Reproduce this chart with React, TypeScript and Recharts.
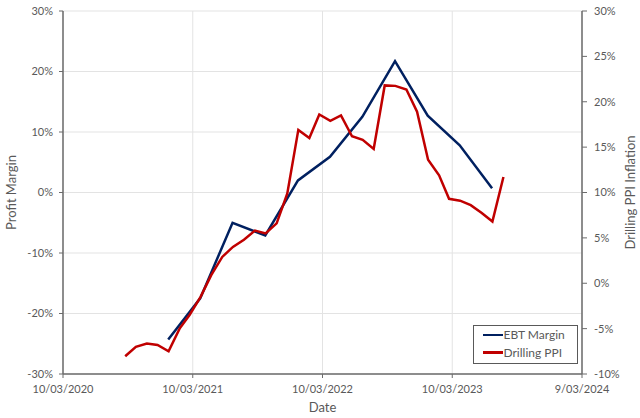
import React from 'react';
import { LineChart, Line, XAxis, YAxis, CartesianGrid, Legend } from 'recharts';

// quarterly EBT margin (%), left axis
const ebtDates = [
  '2020-12-31', '2021-03-31', '2021-06-30', '2021-09-30', '2021-12-31', '2022-03-31',
  '2022-06-30', '2022-09-30', '2022-12-31', '2023-03-31', '2023-06-30',
];
const ebtMargin = [-24.3, -17.5, -5.0, -7.1, 2.0, 5.9, 12.5, 21.7, 12.7, 7.8, 0.7];

// monthly drilling PPI inflation (%), right axis
const ppiDates = [
  '2020-09-01', '2020-10-01', '2020-11-01', '2020-12-01',
  '2021-01-01', '2021-02-01', '2021-03-01', '2021-04-01', '2021-05-01', '2021-06-01',
  '2021-07-01', '2021-08-01', '2021-09-01', '2021-10-01', '2021-11-01', '2021-12-01',
  '2022-01-01', '2022-02-01', '2022-03-01', '2022-04-01', '2022-05-01', '2022-06-01',
  '2022-07-01', '2022-08-01', '2022-09-01', '2022-10-01', '2022-11-01', '2022-12-01',
  '2023-01-01', '2023-02-01', '2023-03-01', '2023-04-01', '2023-05-01', '2023-06-01',
  '2023-07-01', '2023-08-01',
];
const ppiInflation = [
  -8.05, -7.0, -6.65, -6.8,
  -7.5, -5.0, -3.5, -1.5, 0.9, 2.9, 4.0, 4.8, 5.8, 5.5, 6.6, 9.9,
  16.9, 16.0, 18.6, 17.9, 18.5, 16.2, 15.8, 14.8, 21.8, 21.75, 21.35, 18.9,
  13.6, 11.9, 9.3, 9.1, 8.6, 7.75, 6.8, 11.7,
];

const seriesNames = ['EBT Margin', 'Drilling PPI'];
const dateTicks = ['2020-03-10', '2021-03-10', '2022-03-10', '2023-03-10', '2024-03-09'];
const marginTicks = [-30, -20, -10, 0, 10, 20, 30];
const ppiTicks = [-10, -5, 0, 5, 10, 15, 20, 25, 30];

const toTime = (s: string) => Date.parse(s);
const ebtData = ebtDates.map((d, i) => ({ t: toTime(d), margin: ebtMargin[i] }));
const ppiData = ppiDates.map((d, i) => ({ t: toTime(d), ppi: ppiInflation[i] }));
const xTicks = dateTicks.map(toTime);

const fmtDate = (t: number) => {
  const d = new Date(t);
  return `${d.getUTCDate()}/${String(d.getUTCMonth() + 1).padStart(2, '0')}/${d.getUTCFullYear()}`;
};
const pct = (v: number) => `${v}%`;

const textColor = '#595959';
const axisColor = '#6b6b6b';
const tickStyle = { fill: textColor, fontSize: 11 };

function LegendBox({ payload }: any) {
  const items = [...(payload || [])].sort(
    (a: any, b: any) => seriesNames.indexOf(a.value) - seriesNames.indexOf(b.value)
  );
  return (
    <div
      style={{
        width: 105,
        height: 39,
        boxSizing: 'border-box',
        border: `1.5px solid ${textColor}`,
        background: '#fff',
        paddingLeft: 8.5,
      }}
    >
      {items.map((p: any) => (
        <div
          key={p.value}
          style={{ display: 'flex', alignItems: 'center', height: 17.5, fontSize: 12, color: textColor }}
        >
          <span style={{ display: 'inline-block', width: 20, height: 2.5, background: p.color, marginRight: 1 }} />
          {p.value}
        </div>
      ))}
    </div>
  );
}

export default function App() {
  return (
    <div
      style={{
        position: 'absolute',
        left: 0,
        top: 0,
        width: 640,
        height: 418,
        background: '#fff',
        fontFamily: 'Lato, "Open Sans", sans-serif',
      }}
    >
      <LineChart width={640} height={418} margin={{ top: 11, right: 0, bottom: 0, left: 0 }}>
        <CartesianGrid stroke="#e3e3e3" yAxisId="left" />
        <XAxis
          dataKey="t"
          type="number"
          scale="time"
          domain={[xTicks[0], xTicks[xTicks.length - 1]]}
          ticks={xTicks}
          tickFormatter={fmtDate}
          allowDataOverflow
          height={44}
          tick={tickStyle}
          tickSize={4}
          tickMargin={7}
          axisLine={{ stroke: axisColor, strokeWidth: 1.5 }}
          tickLine={{ stroke: axisColor }}
          label={{ value: 'Date', position: 'insideBottom', offset: 6, fill: textColor, fontSize: 13 }}
        />
        <YAxis
          yAxisId="left"
          domain={[-30, 30]}
          ticks={marginTicks}
          tickFormatter={pct}
          width={63}
          tick={tickStyle}
          tickSize={4}
          tickMargin={6}
          axisLine={{ stroke: axisColor, strokeWidth: 1.5 }}
          tickLine={{ stroke: axisColor }}
          label={{
            value: 'Profit Margin',
            angle: -90,
            position: 'insideLeft',
            offset: 11,
            fill: textColor,
            fontSize: 13,
            style: { textAnchor: 'middle' },
          }}
        />
        <YAxis
          yAxisId="right"
          orientation="right"
          domain={[-10, 30]}
          ticks={ppiTicks}
          tickFormatter={pct}
          width={58}
          tick={tickStyle}
          tickSize={5}
          tickMargin={7}
          axisLine={{ stroke: axisColor, strokeWidth: 1.5 }}
          tickLine={{ stroke: axisColor }}
          label={{
            value: 'Drilling PPI Inflation',
            angle: -90,
            position: 'insideRight',
            offset: 10,
            fill: textColor,
            fontSize: 13,
            style: { textAnchor: 'middle' },
          }}
        />
        <Legend
          layout="vertical"
          align="center"
          verticalAlign="middle"
          wrapperStyle={{ left: 473, top: 325, width: 105, height: 39 }}
          content={<LegendBox />}
        />
        <Line
          data={ebtData}
          yAxisId="left"
          dataKey="margin"
          name="EBT Margin"
          type="linear"
          stroke="#002060"
          strokeWidth={2.5}
          dot={false}
          isAnimationActive={false}
        />
        <Line
          data={ppiData}
          yAxisId="right"
          dataKey="ppi"
          name="Drilling PPI"
          type="linear"
          stroke="#C00000"
          strokeWidth={2.5}
          dot={false}
          isAnimationActive={false}
        />
      </LineChart>
    </div>
  );
}
